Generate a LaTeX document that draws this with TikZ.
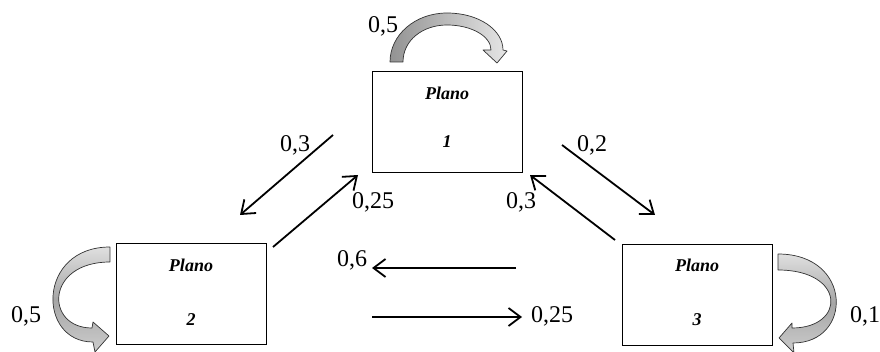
\documentclass[tikz,border=0pt]{standalone}
\usepackage{fontspec}
\setmainfont{Liberation Serif}
\usetikzlibrary{arrows.meta}
\begin{document}
\begin{tikzpicture}[x=1pt,y=-1pt,
  plan/.style={draw, line width=0.8pt, minimum width=150pt, minimum height=101pt, inner sep=0pt},
  ptxt/.style={font=\fontsize{18}{20}\selectfont\bfseries\itshape, inner sep=0pt, anchor=base},
  lab/.style={font=\fontsize{24}{28}\selectfont, inner sep=0pt, anchor=base},
  conn/.style={line width=1.8pt, -{Straight Barb[length=12pt,width=18pt]}},
  blk/.style={draw=black!80, line width=0.7pt, line join=round}
]
\useasboundingbox (0,0) rectangle (880,352);

% boxes
\node[plan] (p1) at (447,122) {};
\node[plan] (p2) at (191,294) {};
\node[plan] (p3) at (697.5,294.5) {};

\node[ptxt] (p1a) at (447,100) {Plano};
\node[ptxt] (p1b) at (447,148) {1};
\node[ptxt] (p2a) at (191,272) {Plano};
\node[ptxt] (p2b) at (191,325) {2};
\node[ptxt] (p3a) at (697,272) {Plano};
\node[ptxt] (p3b) at (697,326) {3};

% straight connectors
\coordinate (a1s) at (333,135); \coordinate (a1e) at (240,215);
\coordinate (a2s) at (273,247); \coordinate (a2e) at (358,175);
\coordinate (a3s) at (562,145); \coordinate (a3e) at (655,215);
\coordinate (a4s) at (615,240); \coordinate (a4e) at (530,175);
\coordinate (a5s) at (516,268); \coordinate (a5e) at (372,268);
\coordinate (a6s) at (372,317); \coordinate (a6e) at (522,317);
\draw[conn] (a1s) -- (a1e);
\draw[conn] (a2s) -- (a2e);
\draw[conn] (a3s) -- (a3e);
\draw[conn] (a4s) -- (a4e);
\draw[conn] (a5s) -- (a5e);
\draw[conn] (a6s) -- (a6e);

% curved block arrows
\path[blk, left color=gray!85, right color=gray!20]
  (390,62) .. controls (390,35) and (415,13) .. (447,13)
  .. controls (479,13) and (503,30) .. (503,50)
  -- (507,51) -- (497,63) -- (483,50) -- (491,50)
  .. controls (491,36) and (471,25) .. (447,25)
  .. controls (423,25) and (403,40) .. (403,62) -- cycle;

\path[blk, top color=gray!25, bottom color=gray!40, middle color=gray!70]
  (110,247) .. controls (37,247) and (37,342) .. (93,342)
  -- (95,352) -- (109,336) -- (93,322) -- (92,328)
  .. controls (45,328) and (45,262) .. (110,262) -- cycle;

\path[blk, top color=gray!25, bottom color=gray!40, middle color=gray!70]
  (778,254) .. controls (853,254) and (853,343) .. (793,343)
  -- (794,353) -- (779,338) -- (792,323) -- (792,328)
  .. controls (846,328) and (846,270) .. (778,270) -- cycle;

% labels
\node[lab] (l1) at (383,33) {0,5};
\node[lab] (l2) at (295,152) {0,3};
\node[lab] (l3) at (373,209) {0,25};
\node[lab] (l4) at (592,152) {0,2};
\node[lab] (l5) at (521,209) {0,3};
\node[lab] (l6) at (352,267) {0,6};
\node[lab] (l7) at (552,323) {0,25};
\node[lab] (l8) at (26,323) {0,5};
\node[lab] (l9) at (865,323) {0,1};
\end{tikzpicture}
\end{document}
